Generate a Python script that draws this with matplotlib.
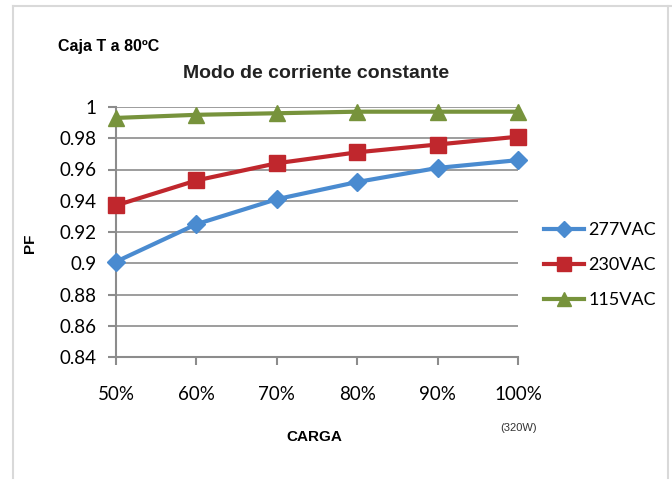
import matplotlib.pyplot as plt
from matplotlib.lines import Line2D

# data
cargas = ["50%", "60%", "70%", "80%", "90%", "100%"]
pf_277 = [0.901, 0.925, 0.941, 0.952, 0.961, 0.966]
pf_230 = [0.937, 0.953, 0.964, 0.971, 0.976, 0.981]
pf_115 = [0.993, 0.995, 0.996, 0.997, 0.997, 0.997]
y_ticks = [0.84, 0.86, 0.88, 0.9, 0.92, 0.94, 0.96, 0.98, 1.0]
y_labels = ["0.84", "0.86", "0.88", "0.9", "0.92", "0.94", "0.96", "0.98", "1"]

fig = plt.figure(figsize=(6.72, 4.8), dpi=100)
ax = fig.add_axes([116 / 672, 1 - 357 / 480, 402 / 672, 250 / 480])

x = list(range(len(cargas)))
series = [
    ("277VAC", pf_277, "#4A8BD0", "D", 9),
    ("230VAC", pf_230, "#C0272D", "s", 11),
    ("115VAC", pf_115, "#77933C", "^", 11),
]
for name, vals, col, mk, ms in series:
    ax.plot(x, vals, color=col, lw=3, marker=mk, ms=ms, label=name, clip_on=False, zorder=3)

ax.set_xlim(0, 5)
ax.set_ylim(0.84, 1.0)
ax.set_xticks(x)
ax.set_xticklabels(cargas)
ax.set_yticks(y_ticks)
ax.set_yticklabels(y_labels)
ax.grid(axis="y", color="#8c8c8c", lw=1.2)
ax.set_axisbelow(True)
for s in ["top", "right"]:
    ax.spines[s].set_visible(False)
for s in ["left", "bottom"]:
    ax.spines[s].set_color("#8c8c8c")
    ax.spines[s].set_linewidth(1.5)
ax.tick_params(axis="both", color="#8c8c8c", length=6, width=1.5, labelsize=13.5)
ax.tick_params(axis="y", pad=8)
ax.tick_params(axis="x", pad=15)
for lab in ax.get_xticklabels() + ax.get_yticklabels():
    lab.set_family("Lato")

# chart texts
fig.text(58 / 672, 1 - 46 / 480, "Caja T a 80ºC", fontsize=11.5, fontweight="bold",
         family="Liberation Sans", va="center", ha="left")
fig.text(316 / 672, 1 - 74 / 480, "Modo de corriente constante", fontsize=14,
         fontweight="bold", family="Liberation Sans", va="center", ha="center", color="#222222")
fig.text(30 / 672, 1 - 243 / 480, "PF", fontsize=11, fontweight="bold",
         family="Liberation Sans", va="center", ha="center", rotation=90)
fig.text(314 / 672, 1 - 437 / 480, "CARGA", fontsize=11, fontweight="bold",
         family="Liberation Sans", va="center", ha="center")
fig.text(519 / 672, 1 - 428 / 480, "(320W)", fontsize=8, family="Liberation Sans",
         va="center", ha="center", color="#333333")

leg = fig.legend(loc="center left", bbox_to_anchor=(528 / 672, 1 - 265 / 480),
                 frameon=False, prop={"family": "Lato", "size": 13},
                 handlelength=2.2, handletextpad=0.25, labelspacing=1.05, markerscale=0.9)

# light chart border
fig.add_artist(Line2D([13 / 672, 13 / 672], [1 - 478 / 480, 1 - 6 / 480],
                      transform=fig.transFigure, color="#d9d9d9", lw=1.5))
fig.add_artist(Line2D([13 / 672, 1], [1 - 6 / 480, 1 - 6 / 480],
                      transform=fig.transFigure, color="#d9d9d9", lw=1.5))
fig.add_artist(Line2D([668 / 672, 668 / 672], [1 - 478 / 480, 1 - 6 / 480],
                      transform=fig.transFigure, color="#d9d9d9", lw=1.5))

fig.savefig("out.png", dpi=100)
